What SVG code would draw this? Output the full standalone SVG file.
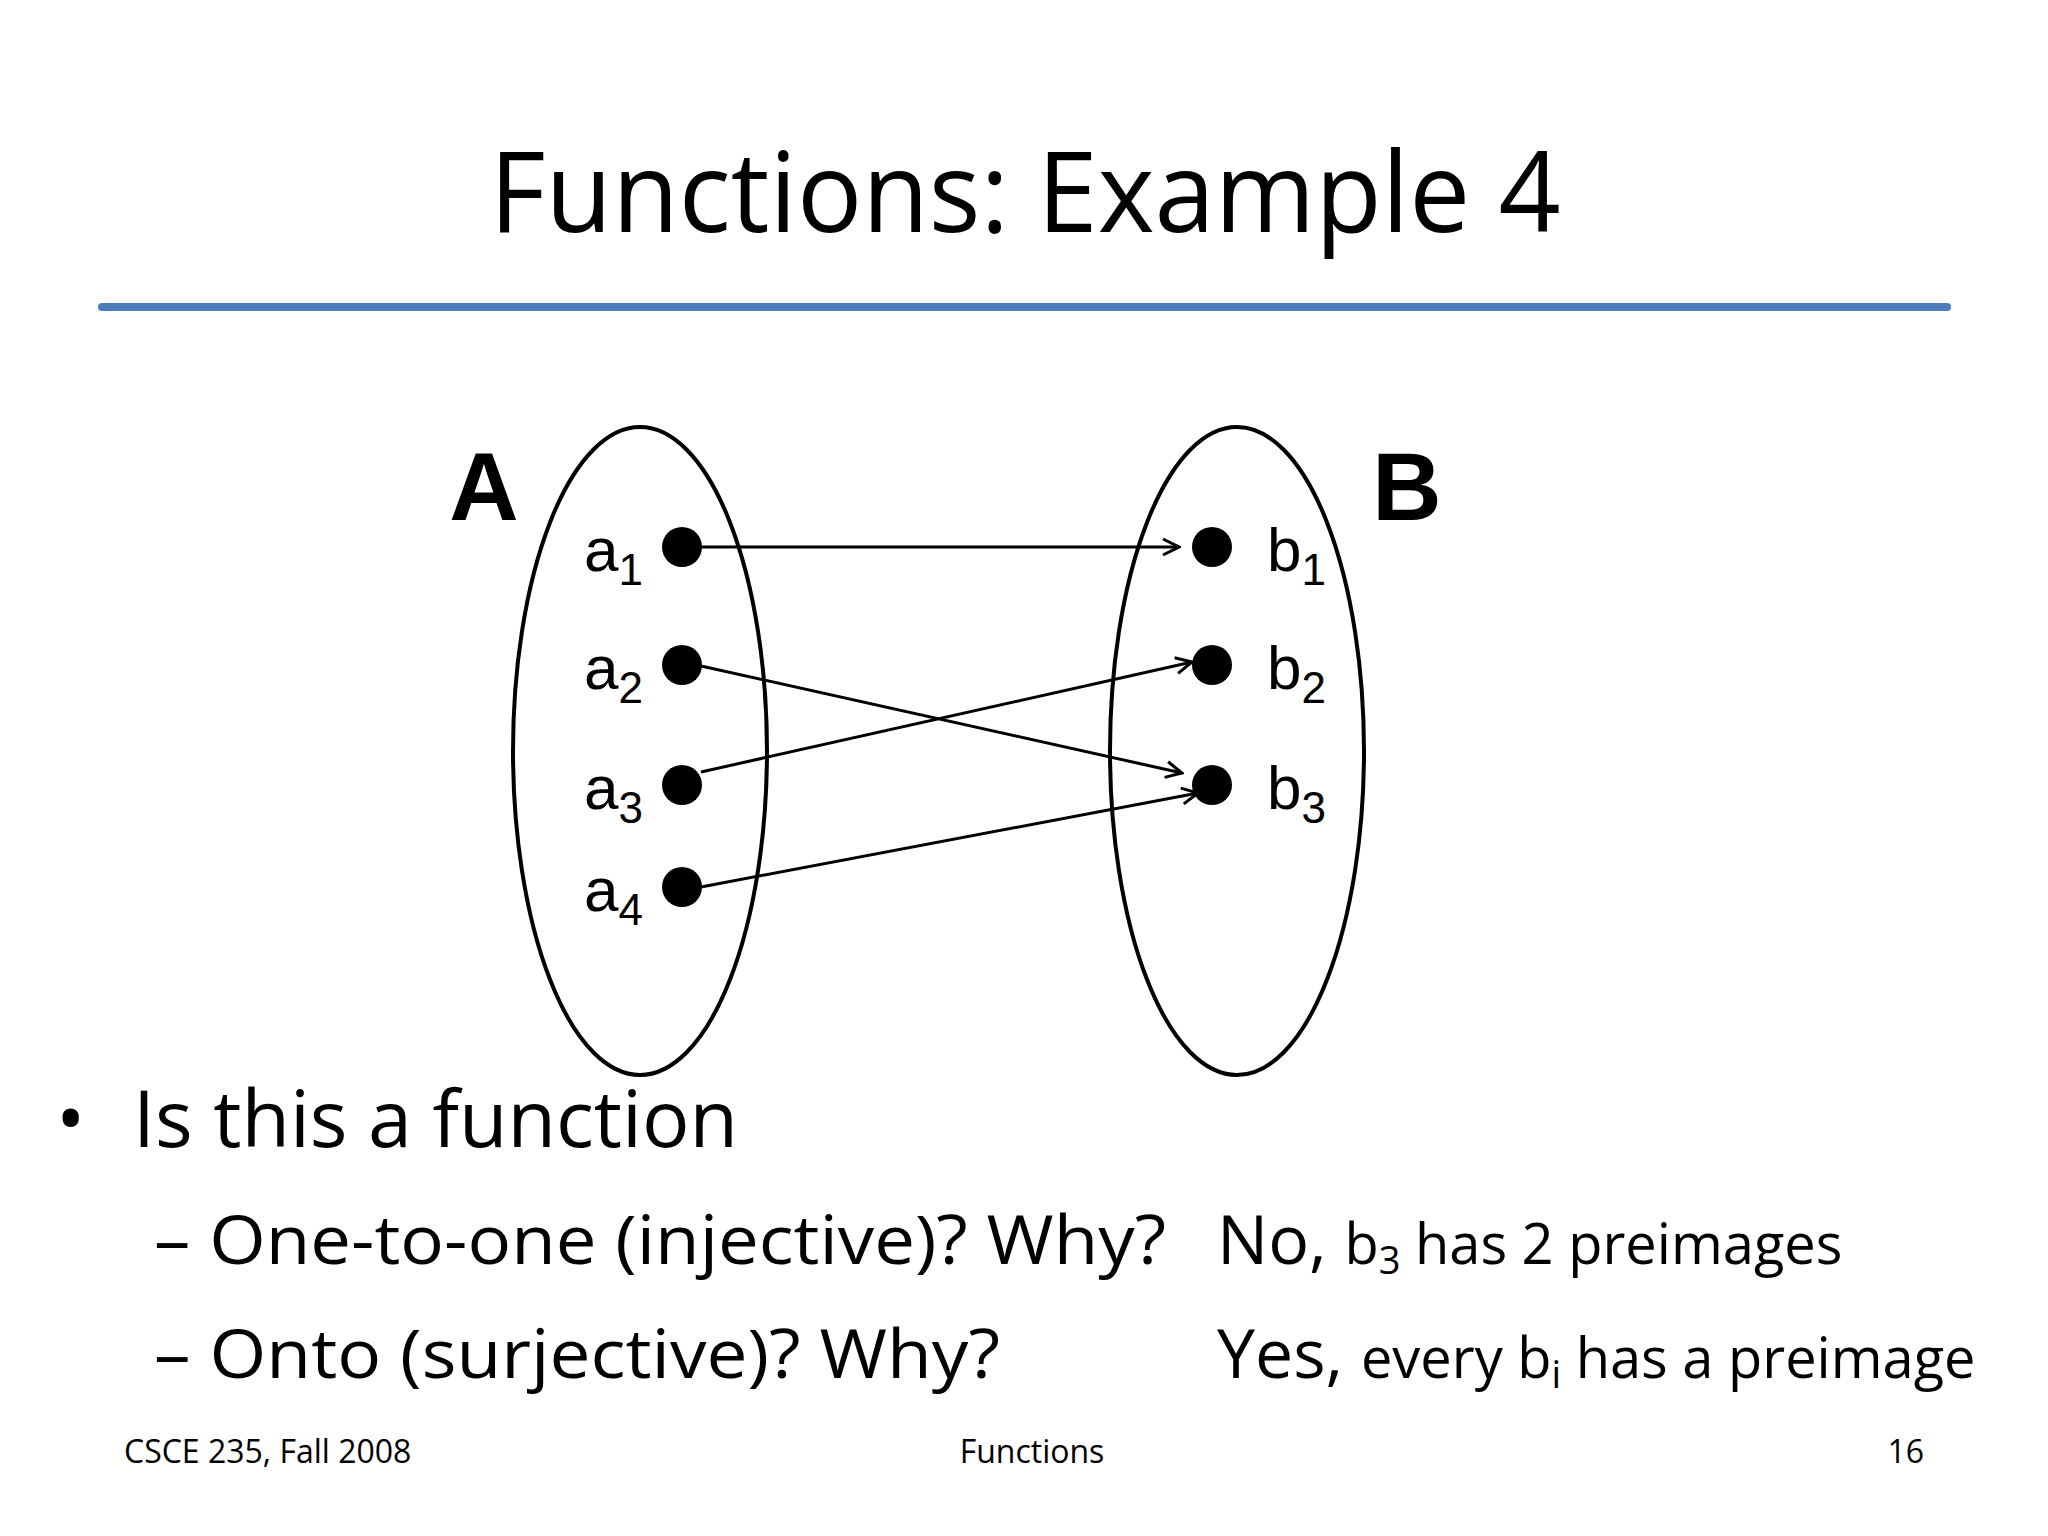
<svg xmlns="http://www.w3.org/2000/svg" width="2048" height="1536" viewBox="0 0 2048 1536">
<defs>
<style>
.c{font-family:"Open Sans","Liberation Sans",sans-serif;fill:#000}
.h{font-family:"Liberation Sans",Arial,sans-serif;fill:#000}
.e{fill:none;stroke:#000;stroke-width:4}
.d{fill:#000}
.ar{stroke:#000;stroke-width:3;fill:none;marker-end:url(#m)}
</style>
<marker id="m" viewBox="0 0 20 20" refX="18" refY="10" markerWidth="20" markerHeight="20" markerUnits="userSpaceOnUse" orient="auto">
<path d="M2,2 L18,10 L2,18" fill="none" stroke="#000" stroke-width="3"/>
</marker>
</defs>
<rect width="2048" height="1536" fill="#fff"/>
<text class="c" x="1025" y="232" font-size="112" text-anchor="middle" textLength="1071" lengthAdjust="spacingAndGlyphs">Functions: Example 4</text>
<line x1="102" y1="307" x2="1947" y2="307" stroke="#4a7ebb" stroke-width="8" stroke-linecap="round"/>
<g id="setA"><ellipse class="e" cx="640" cy="751" rx="127" ry="324"/><text class="h" x="484" y="520" font-size="96" font-weight="bold" text-anchor="middle">A</text></g>
<g id="setB"><ellipse class="e" cx="1237" cy="751" rx="127" ry="324"/><text class="h" x="1407" y="520" font-size="96" font-weight="bold" text-anchor="middle">B</text></g>
<g id="a1"><circle class="d" cx="682" cy="547" r="20"/><text class="h" x="584" y="571" font-size="62">a<tspan font-size="44" dy="14">1</tspan></text></g>
<g id="a2"><circle class="d" cx="682" cy="665" r="20"/><text class="h" x="584" y="689" font-size="62">a<tspan font-size="44" dy="14">2</tspan></text></g>
<g id="a3"><circle class="d" cx="682" cy="785" r="20"/><text class="h" x="584" y="809" font-size="62">a<tspan font-size="44" dy="14">3</tspan></text></g>
<g id="a4"><circle class="d" cx="682" cy="887" r="20"/><text class="h" x="584" y="911" font-size="62">a<tspan font-size="44" dy="14">4</tspan></text></g>
<g id="b1"><circle class="d" cx="1212" cy="547" r="20"/><text class="h" x="1267" y="571" font-size="62">b<tspan font-size="44" dy="14">1</tspan></text></g>
<g id="b2"><circle class="d" cx="1212" cy="665" r="20"/><text class="h" x="1267" y="689" font-size="62">b<tspan font-size="44" dy="14">2</tspan></text></g>
<g id="b3"><circle class="d" cx="1212" cy="785" r="20"/><text class="h" x="1267" y="809" font-size="62">b<tspan font-size="44" dy="14">3</tspan></text></g>
<g id="connectors">
<line class="ar" x1="701" y1="547" x2="1179" y2="547"/>
<line class="ar" x1="701" y1="666" x2="1182" y2="773"/>
<line class="ar" x1="701" y1="772" x2="1192" y2="662"/>
<line class="ar" x1="701" y1="887" x2="1198" y2="793"/>
</g>
<text class="c" x="56" y="1147" font-size="78">•</text>
<text class="c" x="133" y="1147" font-size="78" textLength="605" lengthAdjust="spacingAndGlyphs">Is this a function</text>
<text class="c" x="154" y="1264" font-size="68" textLength="1012" lengthAdjust="spacingAndGlyphs">– One-to-one (injective)? Why?</text>
<text class="c" x="1217" y="1264" font-size="68">No, <tspan font-size="56">b<tspan font-size="38" dy="10">3</tspan><tspan dy="-10"> has 2 preimages</tspan></tspan></text>
<text class="c" x="154" y="1378" font-size="68" textLength="846" lengthAdjust="spacingAndGlyphs">– Onto (surjective)? Why?</text>
<text class="c" x="1217" y="1378" font-size="68">Yes, <tspan font-size="56">every b<tspan font-size="38" dy="10">i</tspan><tspan dy="-10"> has a preimage</tspan></tspan></text>
<text class="c" x="124" y="1463" font-size="32">CSCE 235, Fall 2008</text>
<text class="c" x="1032" y="1463" font-size="32" text-anchor="middle">Functions</text>
<text class="c" x="1924" y="1463" font-size="32" text-anchor="end">16</text>
</svg>
